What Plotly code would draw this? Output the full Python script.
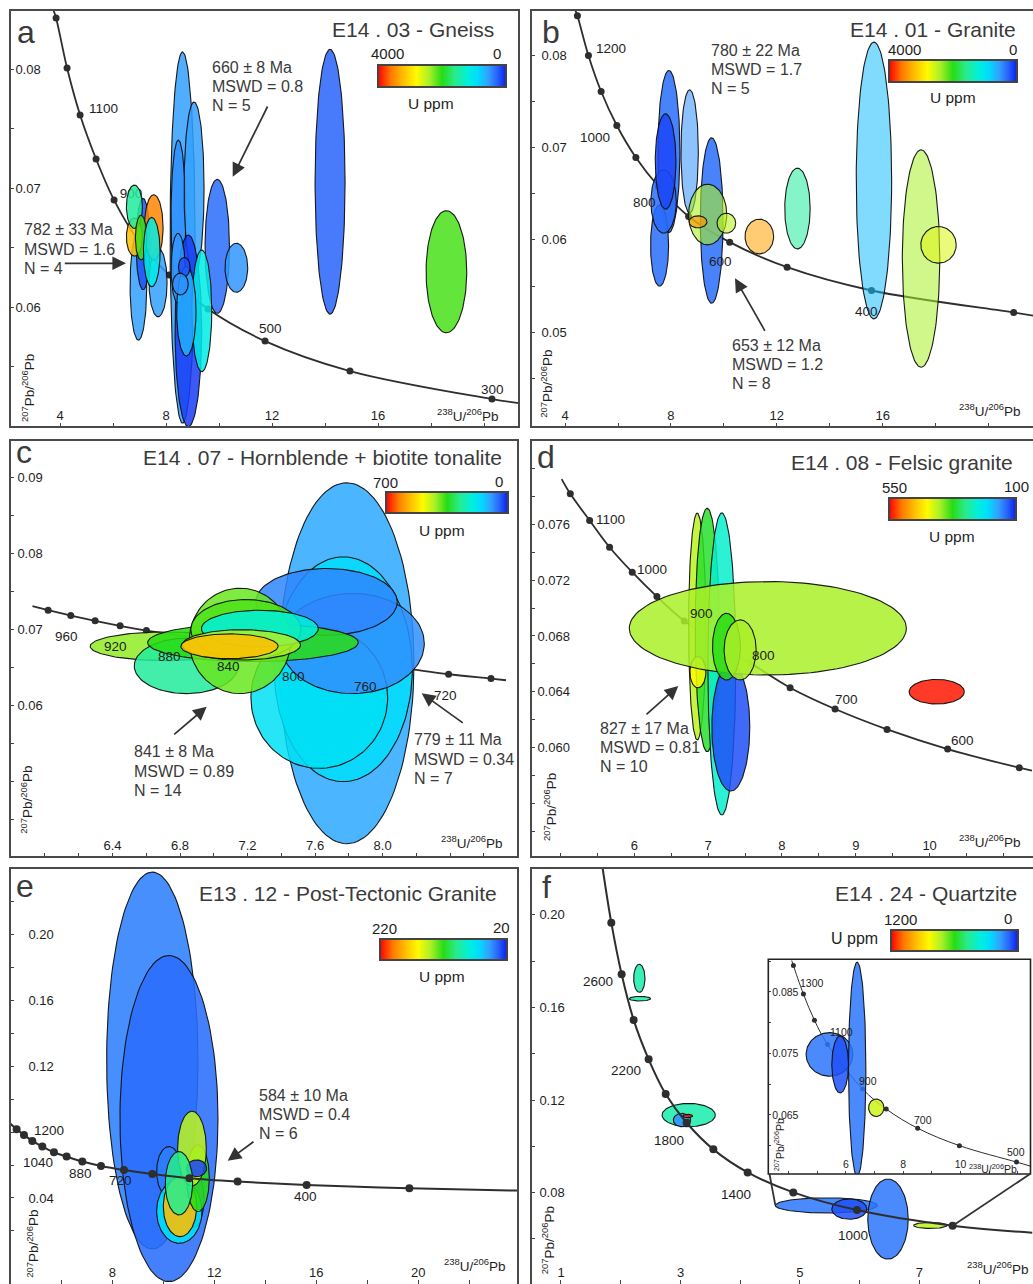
import numpy as np
import plotly.graph_objects as go
from plotly.colors import sample_colorscale

W, H = 1033, 1284
FONT = "Liberation Sans, Arial, Helvetica, sans-serif"
INK = "#1e1e1e"
GREY = "#3a3a3a"

# ============================ DATA ============================
# colour scale for U ppm (left/red = high U, right/blue = low U)
U_SCALE = [[0.00, 'rgb(255,0,0)'], [0.10, 'rgb(255,120,0)'], [0.20, 'rgb(255,190,0)'],
           [0.30, 'rgb(255,250,0)'], [0.40, 'rgb(170,240,40)'], [0.50, 'rgb(40,220,20)'],
           [0.60, 'rgb(40,235,140)'], [0.70, 'rgb(0,240,220)'], [0.78, 'rgb(0,220,255)'],
           [0.86, 'rgb(50,160,255)'], [0.93, 'rgb(40,100,250)'], [1.00, 'rgb(10,30,240)']]

# ---- (a) E14.03 Gneiss ----
A_URANGE = [4000, 0]
A_X = [14.19, 18.58, 9.932, 10.653, 8.623, 8.464, 9.057, 8.842, 9.347, 8.453, 8.766, 8.687, 8.54,
       6.956, 7.698, 7.132, 7.535, 6.805, 6.805, 7.057, 7.459]
A_Y = [0.07053, 0.06297, 0.0651, 0.0633, 0.06584, 0.06759, 0.06996, 0.058, 0.05968, 0.06325, 0.05964,
       0.06336, 0.06193, 0.06179, 0.06207, 0.06529, 0.06669, 0.06588, 0.06843, 0.06583, 0.06462]
A_EX = [0.566, 0.767, 0.46, 0.428, 0.472, 0.277, 0.377, 0.503, 0.377, 0.264, 0.365, 0.22, 0.296,
        0.314, 0.34, 0.264, 0.352, 0.302, 0.302, 0.214, 0.314]
A_EY = [0.01112, 0.00513, 0.00563, 0.00206, 0.0156, 0.00644, 0.00727, 0.00805, 0.00511, 0.00294, 0.00375,
        0.00081, 0.00091, 0.00457, 0.00289, 0.00384, 0.00275, 0.0016, 0.00182, 0.00188, 0.00291]
A_U = [280, 2100, 320, 520, 560, 480, 560, 120, 1120, 520, 640, 200, 480, 560, 560, 200, 3520, 3200,
       1520, 2080, 1120]
A_DOT_X = [3.849, 4.264, 4.755, 5.358, 6.038, 6.94, 8.113, 9.585, 11.736, 14.94, 20.30]
A_DOT_Y = [0.08429, 0.08008, 0.07613, 0.07244, 0.06899, 0.06563, 0.06269, 0.05983, 0.05714, 0.05462, 0.05227]
A_LINE_X = [3.747] + A_DOT_X + [21.32]
A_LINE_Y = [0.08496] + A_DOT_Y + [0.05193]

# ---- (b) E14.01 Granite ----
B_URANGE = [4000, 0]
B_X = [7.924, 7.571, 7.722, 7.798, 8.707, 9.539, 9.388, 9.022, 10.095, 11.34, 12.78, 15.67, 17.45, 18.11]
B_Y = [0.06956, 0.05939, 0.06415, 0.06848, 0.06956, 0.06209, 0.06274, 0.06195, 0.0618, 0.06036, 0.06339,
       0.06642, 0.05798, 0.05946]
B_EX = [0.416, 0.34, 0.48, 0.391, 0.328, 0.429, 0.72, 0.34, 0.353, 0.54, 0.48, 0.669, 0.707, 0.669]
B_EY = [0.00877, 0.0044, 0.00343, 0.00516, 0.00667, 0.00895, 0.00328, 0.00065, 0.00108, 0.00188, 0.00437,
        0.01497, 0.01176, 0.00198]
B_U = [320, 320, 320, 160, 480, 320, 2400, 3440, 2480, 3360, 1520, 720, 2400, 2640]
B_DOT_X = [4.467, 4.883, 5.363, 5.956, 6.675, 7.533, 8.669, 10.22, 12.39, 15.58, 20.95]
B_DOT_Y = [0.08424, 0.07995, 0.07605, 0.07237, 0.06891, 0.06577, 0.06253, 0.05975, 0.05704, 0.05452, 0.05214]
B_LINE_X = [4.379] + B_DOT_X + [21.72]
B_LINE_Y = [0.0849] + B_DOT_Y + [0.05178]

# ---- (c) E14.07 Hornblende + biotite tonalite ----
C_URANGE = [700, 0]
C_X = [7.787, 7.767, 7.625, 7.822, 7.668, 6.714, 6.837, 7.232, 7.155, 7.19, 7.273, 7.164, 7.093]
C_Y = [0.06554, 0.06475, 0.06101, 0.06814, 0.07363, 0.06778, 0.06519, 0.06827, 0.06849, 0.06998, 0.07011,
       0.06796, 0.06778]
C_EX = [0.399, 0.409, 0.405, 0.425, 0.419, 0.446, 0.308, 0.624, 0.3, 0.326, 0.346, 0.35, 0.288]
C_EY = [0.02379, 0.01482, 0.00932, 0.0066, 0.0044, 0.00189, 0.00365, 0.00251, 0.00695, 0.00396, 0.00242,
        0.002, 0.00163]
C_U = [105, 161, 168, 84, 77, 406, 266, 350, 385, 371, 210, 420, 560]
C_DOT_X = [6.019, 6.153, 6.297, 6.445, 6.601, 8.391, 8.642]
C_DOT_Y = [0.07253, 0.07183, 0.07113, 0.07047, 0.06985, 0.06409, 0.06352]
C_LINE_X = [5.926, 6.019, 6.153, 6.297, 6.445, 6.601, 8.188, 8.391, 8.642, 8.731]
C_LINE_Y = [0.07306, 0.07253, 0.07183, 0.07113, 0.07047, 0.06985, 0.0647, 0.06409, 0.06352, 0.0633]

# ---- (d) E14.08 Felsic granite ----
D_URANGE = [550, 100]
D_X = [6.853, 6.988, 6.862, 7.186, 7.308, 7.809, 7.249, 7.434, 10.096]
D_Y = [0.06867, 0.06843, 0.0654, 0.06599, 0.06147, 0.06855, 0.06723, 0.067, 0.0640]
D_EX = [0.117, 0.162, 0.108, 0.189, 0.257, 1.876, 0.189, 0.217, 0.374]
D_EY = [0.00813, 0.00873, 0.00112, 0.01083, 0.00459, 0.00335, 0.00239, 0.00215, 0.000885]
D_U = [379, 316, 415, 244, 122, 370, 325, 370, 541]
D_DOT_X = [5.134, 5.396, 5.666, 5.973, 6.307, 6.677, 7.105, 7.579, 8.111, 8.72, 9.424, 10.244, 11.214]
D_DOT_Y = [0.07819, 0.07628, 0.07436, 0.07257, 0.07082, 0.06908, 0.06759, 0.06604, 0.06429, 0.06276,
           0.0613, 0.05989, 0.05855]
D_LINE_X = [5.017] + D_DOT_X + [11.386]
D_LINE_Y = [0.07924] + D_DOT_Y + [0.05834]

# ---- (e) E13.12 Post-Tectonic Granite ----
E_URANGE = [220, 20]
E_X = [9.569, 10.222, 10.222, 11.216, 10.627, 10.654, 11.36, 11.124, 11.307, 10.614]
E_Y = [0.12356, 0.08828, 0.05604, 0.03921, 0.03191, 0.03475, 0.05199, 0.07003, 0.05807, 0.04894]
E_EX = [1.791, 1.922, 0.484, 0.379, 0.889, 0.654, 0.444, 0.562, 0.392, 0.536]
E_EY = [0.11456, 0.09915, 0.0152, 0.01683, 0.01946, 0.01825, 0.02028, 0.02271, 0.00507, 0.01926]
E_U = [40, 36, 40, 36, 68, 180, 120, 144, 28, 100]
E_DOT_X = [4.248, 4.536, 4.863, 5.255, 5.712, 6.209, 6.824, 7.556, 8.458, 9.569, 11.02, 12.915, 15.62, 19.65]
E_DOT_Y = [0.08179, 0.07835, 0.0747, 0.07125, 0.0678, 0.06517, 0.06213, 0.05949, 0.05706, 0.05462,
           0.05199, 0.04996, 0.04793, 0.0459]
E_LINE_X = [3.987] + E_DOT_X + [23.92]
E_LINE_Y = [0.08544] + E_DOT_Y + [0.04448]

# ---- (f) E14.24 Quartzite ----
F_URANGE = [1200, 0]
F_X = [2.311, 2.322, 3.137, 3.025, 3.12, 5.441, 5.826, 6.473, 7.181]
F_Y = [0.17256, 0.16377, 0.11352, 0.11136, 0.11309, 0.0745, 0.07292, 0.0686, 0.06586]
F_EX = [0.095, 0.179, 0.446, 0.145, 0.084, 0.854, 0.293, 0.338, 0.279]
F_EY = [0.00605, 0.001, 0.00504, 0.00288, 0.00072, 0.0033, 0.0044, 0.0173, 0.0013]
F_U = [432, 432, 432, 144, 1176, 108, 60, 108, 744]
F_DOT_X = [1.842, 2.015, 2.216, 2.467, 2.752, 3.103, 3.55, 4.124, 4.888, 5.954, 7.555]
F_DOT_Y = [0.1966, 0.1743, 0.1546, 0.1376, 0.1226, 0.1102, 0.0987, 0.08875, 0.08011, 0.07248, 0.06572]
F_LINE_X = [1.697] + F_DOT_X + [8.888]
F_LINE_Y = [0.2201] + F_DOT_Y + [0.0627]

# ---- (f) inset ----
I_X = [5.429, 5.802, 6.396, 7.061]
I_Y = [0.07484, 0.0732, 0.07244, 0.06617]
I_EX = [0.816, 0.291, 0.303, 0.268]
I_EY = [0.00354, 0.00463, 0.01739, 0.00142]
I_U = [108, 60, 108, 768]
I_DOT_X = [4.170, 4.520, 4.904, 5.359, 6.583, 7.41, 8.506, 9.963, 11.956]
I_DOT_Y = [0.08928, 0.08465, 0.0804, 0.07647, 0.06922, 0.06595, 0.06284, 0.06001, 0.05734]
I_LINE_X = [4.112] + I_DOT_X + [12.445]
I_LINE_Y = [0.0901] + I_DOT_Y + [0.05668]

# tick values
A_XT, A_XM, A_YT, A_YM = [4, 8, 12, 16], [6, 10, 14, 18, 20], [0.06, 0.07, 0.08], [0.055, 0.065, 0.075]
B_XT, B_XM, B_YT, B_YM = [4, 8, 12, 16], [6, 10, 14, 18, 20], [0.05, 0.06, 0.07, 0.08], [0.045, 0.055, 0.065, 0.075]
C_XT, C_XM = [6.4, 6.8, 7.2, 7.6, 8.0], [6.0, 6.2, 6.6, 7.0, 7.4, 7.8, 8.2, 8.4, 8.6]
C_YT, C_YM = [0.06, 0.07, 0.08, 0.09], [0.045, 0.05, 0.055, 0.065, 0.075, 0.085]
D_XT, D_XM = [6, 7, 8, 9, 10], [5.0, 5.5, 6.5, 7.5, 8.5, 9.5, 10.5, 11.0]
D_YT, D_YM = [0.060, 0.064, 0.068, 0.072, 0.076], [0.054, 0.056, 0.058, 0.062, 0.066, 0.070, 0.074, 0.078, 0.080]
E_XT, E_XM, E_YT, E_YM = [8, 12, 16, 20], [6, 10, 14, 18, 22], [0.04, 0.12, 0.16, 0.20], [0.02, 0.06, 0.08, 0.10, 0.14, 0.18, 0.22]
F_XT, F_XM, F_YT, F_YM = [1, 3, 5, 7], [2, 4, 6, 8], [0.08, 0.12, 0.16, 0.20], [0.06, 0.10, 0.14, 0.18]
I_XT, I_XM, I_YT, I_YM = [6, 8, 10], [4, 5, 7, 9, 11, 12], [0.065, 0.075, 0.085], [0.06, 0.07, 0.08, 0.09]

# ============================ STYLE / LAYOUT ============================
B_ALPHA = [0.85, 0.85, 0.85, 0.85, 0.55, 0.85, 0.6, 0.65, 0.6, 0.55, 0.55, 0.55, 0.55, 0.55]

T = np.linspace(0, 2 * np.pi, 121)
fig = go.Figure()
layout = dict(width=W, height=H, margin=dict(l=0, r=0, t=0, b=0), paper_bgcolor='white',
              plot_bgcolor='white', showlegend=False, font=dict(family=FONT, color=INK))
ANN, SHP = [], []


def P(px, py):
    return px / W, 1 - py / H


def ucolor(u, urange, alpha):
    hi, lo = urange
    t = min(max((hi - u) / (hi - lo), 0), 1)
    c = sample_colorscale(U_SCALE, [t])[0]
    r, g, b = [float(v) for v in c[c.index('(') + 1:-1].split(',')]
    return f'rgba({r:.0f},{g:.0f},{b:.0f},{alpha})'


def refs(n):
    return ('x', 'y') if n == 1 else (f'x{n}', f'y{n}')


def axes(n, box, xr, yr, xt, xm, yt, ym, xfmt, yfmt, fs=13, tl=4, ystand=0):
    x0, y0, x1, y1 = box
    sfx = '' if n == 1 else str(n)
    com = dict(showgrid=False, zeroline=False, showline=False, ticks='inside', ticklen=tl, tickwidth=1,
               tickcolor='#444', ticklabelposition='inside', ticklabeloverflow='allow', fixedrange=True,
               tickfont=dict(size=fs, color=INK, family=FONT), tickmode='array')
    xa = dict(domain=[x0 / W, min(x1 / W, 1)], range=xr, anchor='y' + sfx, tickvals=xt,
              ticktext=[xfmt.format(v) for v in xt],
              minor=dict(tickvals=xm, ticks='inside', ticklen=tl, tickwidth=1, tickcolor='#444'), **com)
    ya = dict(domain=[max(1 - y1 / H, 0), 1 - y0 / H], range=yr, anchor='x' + sfx, tickvals=yt,
              ticktext=[yfmt.format(v) for v in yt], ticklabelstandoff=ystand,
              minor=dict(tickvals=ym, ticks='inside', ticklen=tl, tickwidth=1, tickcolor='#444'), **com)
    layout['xaxis' + sfx] = xa
    layout['yaxis' + sfx] = ya


def curve(n, lx, ly, dx, dy, lw=1.8, ds=7):
    xa, ya = refs(n)
    fig.add_trace(go.Scatter(x=lx, y=ly, mode='lines', line=dict(color='#2e2e2e', width=lw, shape='spline'),
                             xaxis=xa, yaxis=ya, hoverinfo='skip'))
    fig.add_trace(go.Scatter(x=dx, y=dy, mode='markers', marker=dict(color='#2e2e2e', size=ds),
                             xaxis=xa, yaxis=ya, hoverinfo='skip'))


def ellipses(n, X, Y, EX, EY, U, urange, alpha, olw=1.1):
    xa, ya = refs(n)
    for i in range(len(X)):
        al = alpha[i] if isinstance(alpha, list) else alpha
        ex = X[i] + EX[i] * np.cos(T)
        ey = Y[i] + EY[i] * np.sin(T)
        fig.add_trace(go.Scatter(x=ex, y=ey, mode='lines', fill='toself',
                                 fillcolor=ucolor(U[i], urange, al),
                                 line=dict(color='rgba(15,15,15,0.95)', width=olw),
                                 xaxis=xa, yaxis=ya, hoverinfo='skip'))


def cbar(n, box):
    x0, y0, x1, y1 = box
    key = 'coloraxis' if n == 1 else f'coloraxis{n}'
    layout[key] = dict(colorscale=U_SCALE, cmin=0, cmax=1, showscale=True,
                       colorbar=dict(orientation='h', x=x0 / W, xanchor='left', y=1 - y0 / H, yanchor='top',
                                     len=x1 - x0, lenmode='pixels', thickness=y1 - y0, thicknessmode='pixels',
                                     outlinewidth=2, outlinecolor='#444', showticklabels=False, ticks='',
                                     xpad=0, ypad=0, borderwidth=0))
    xa, ya = refs(n)
    fig.add_trace(go.Scatter(x=[None], y=[None], mode='markers', marker=dict(color=[0.5], coloraxis=key),
                             xaxis=xa, yaxis=ya, hoverinfo='skip'))


def text(px, py, s, size, color=INK, xanchor='center', yanchor='middle', angle=0):
    x, y = P(px, py)
    ANN.append(dict(x=x, y=y, xref='paper', yref='paper', text=s, showarrow=False, textangle=angle,
                    font=dict(family=FONT, size=size, color=color), xanchor=xanchor, yanchor=yanchor,
                    borderpad=0))


def block(px, py, lines, size=16, step=19):
    for i, s in enumerate(lines):
        text(px, py + i * step, s, size, color=GREY, xanchor='left')


def arrow(tx, ty, hx, hy):
    x, y = P(hx, hy)
    ANN.append(dict(x=x, y=y, xref='paper', yref='paper', ax=tx - hx, ay=ty - hy, axref='pixel',
                    ayref='pixel', text='', showarrow=True, arrowhead=2, arrowsize=1.6, arrowwidth=1.7,
                    arrowcolor='#333'))


def frame(x0, y0, x1, y1, w=2, col='#4a4a4a'):
    SHP.append(dict(type='rect', xref='paper', yref='paper', x0=x0 / W, x1=x1 / W, y0=1 - y1 / H,
                    y1=1 - y0 / H, line=dict(color=col, width=w), fillcolor='rgba(0,0,0,0)', layer='above'))


PB207 = '<sup>207</sup>Pb/<sup>206</sup>Pb'
U238 = '<sup>238</sup>U/<sup>206</sup>Pb'

# ---------------- panel a ----------------
BOX_A = (10, 10, 519, 427)
axes(1, BOX_A, [2.11, 21.32], [0.04992, 0.08496], A_XT, A_XM, A_YT, A_YM, '{:g}', '{:.2f}', ystand=1)
curve(1, A_LINE_X, A_LINE_Y, A_DOT_X, A_DOT_Y)
# age label that sits underneath the ellipses (partly hidden in the original)
fig.add_trace(go.Scatter(x=[6.679], y=[0.06941], mode='text', text=['900'],
                         textfont=dict(family=FONT, size=13.5, color=INK), xaxis='x', yaxis='y',
                         hoverinfo='skip'))
ellipses(1, A_X, A_Y, A_EX, A_EY, A_U, A_URANGE, 0.85)
cbar(1, (378, 65, 506, 86.5))
frame(*BOX_A)
text(16, 32, 'a', 32, GREY, xanchor='left')
text(495, 29.5, 'E14 . 03 - Gneiss', 21, GREY, xanchor='right')
text(387.5, 54, '4000', 15); text(496.5, 53.5, '0', 15); text(431, 103, 'U ppm', 15.5)
block(210.7, 67.5, ['660 ± 8 Ma', 'MSWD = 0.8', 'N = 5'])
block(22.7, 230, ['782 ± 33 Ma', 'MSWD = 1.6', 'N = 4'])
arrow(268.3, 105, 232.7, 176.7)
arrow(63.3, 263.3, 126, 263.3)
for s, x, y in [('1100', 103, 108), ('500', 270, 328), ('300', 492, 389)]:
    text(x, y, s, 13.5)
text(28, 388, PB207, 13.5, angle=-90)
text(468, 414.5, U238, 13.5)

# ---------------- panel b ----------------
BOX_B = (531, 10, 1034, 427)
axes(2, BOX_B, [2.713, 21.68], [0.03975, 0.08487], B_XT, B_XM, B_YT, B_YM, '{:g}', '{:.2f}', ystand=6)
curve(2, B_LINE_X, B_LINE_Y, B_DOT_X, B_DOT_Y)
ellipses(2, B_X, B_Y, B_EX, B_EY, B_U, B_URANGE, B_ALPHA)
cbar(2, (889, 60, 1016.5, 81.5))
frame(*BOX_B)
text(540.5, 32, 'b', 32, GREY, xanchor='left')
text(1017, 29.5, 'E14 . 01 - Granite', 21, GREY, xanchor='right')
text(904.7, 50, '4000', 15); text(1012.7, 49.5, '0', 15); text(952.7, 98, 'U ppm', 15.5)
block(710, 50.5, ['780 ± 22 Ma', 'MSWD = 1.7', 'N = 5'])
block(731, 345.5, ['653 ± 12 Ma', 'MSWD = 1.2', 'N = 8'])
arrow(765.7, 332.3, 735, 278.3)
for s, x, y in [('1200', 610.7, 48.3), ('1000', 595, 138), ('800', 644, 203), ('600', 720, 262), ('400', 866.7, 311.7)]:
    text(x, y, s, 13.5)
text(546.7, 384, PB207, 13.5, angle=-90)
text(990, 410.5, U238, 13.5)

# ---------------- panel c ----------------
BOX_C = (10, 440, 518, 857)
axes(3, BOX_C, [5.793, 8.802], [0.04, 0.09497], C_XT, C_XM, C_YT, C_YM, '{:.1f}', '{:.2f}', ystand=3)
curve(3, C_LINE_X, C_LINE_Y, C_DOT_X, C_DOT_Y)
ellipses(3, C_X, C_Y, C_EX, C_EY, C_U, C_URANGE, 0.85)
cbar(3, (385.7, 492.3, 507.3, 513.3))
frame(*BOX_C)
text(15, 452, 'c', 32, GREY, xanchor='left')
text(503.3, 457, 'E14 . 07 - Hornblende + biotite tonalite', 21, GREY, xanchor='right')
text(385, 482.3, '700', 15); text(499, 481.7, '0', 15); text(441.7, 530, 'U ppm', 15.5)
block(133.3, 752, ['841 ± 8 Ma', 'MSWD = 0.89', 'N = 14'])
block(412.7, 740, ['779 ± 11 Ma', 'MSWD = 0.34', 'N = 7'])
arrow(172.7, 735.7, 206.7, 706.7)
arrow(464.3, 724, 421.7, 693.3)
for s, x, y in [('960', 66, 636.7), ('920', 115, 646.7), ('880', 169.3, 656.7), ('840', 228.3, 666.7),
                ('800', 293.3, 676.7), ('760', 365, 686), ('720', 445, 695)]:
    text(x, y, s, 13.5)
text(26.7, 800, PB207, 13.5, angle=-90)
text(471.7, 841.5, U238, 13.5)

# ---------------- panel d ----------------
BOX_D = (531, 440, 1034, 857)
axes(4, BOX_D, [4.602, 11.40], [0.05215, 0.08205], D_XT, D_XM, D_YT, D_YM, '{:g}', '{:.3f}', ystand=2)
curve(4, D_LINE_X, D_LINE_Y, D_DOT_X, D_DOT_Y)
ellipses(4, D_X, D_Y, D_EX, D_EY, D_U, D_URANGE, 0.85)
cbar(4, (889.3, 497.7, 1016.7, 519.3))
frame(*BOX_D)
text(536, 457, 'd', 32, GREY, xanchor='left')
text(1014, 462, 'E14 . 08 - Felsic granite', 21, GREY, xanchor='right')
text(894, 487.3, '550', 15); text(1016, 486.7, '100', 15); text(951.7, 536, 'U ppm', 15.5)
block(599, 728.5, ['827 ± 17 Ma', 'MSWD = 0.81', 'N = 10'])
arrow(645, 715.7, 678.3, 686)
for s, x, y in [('1100', 610.7, 519.3), ('1000', 651.7, 569.3), ('900', 701.7, 613.3), ('800', 763.3, 656),
                ('700', 846.7, 699.3), ('600', 962.7, 740.7)]:
    text(x, y, s, 13.5)
text(550, 807, PB207, 13.5, angle=-90)
text(989.7, 841, U238, 13.5)

# ---------------- panel e ----------------
BOX_E = (10, 868, 518, 1284)
axes(5, BOX_E, [3.988, 23.91], [-0.0123, 0.2406], E_XT, E_XM, E_YT, E_YM, '{:g}', '{:.2f}', ystand=14)
ellipses(5, E_X, E_Y, E_EX, E_EY, E_U, E_URANGE, 0.87)
curve(5, E_LINE_X, E_LINE_Y, E_DOT_X, E_DOT_Y, lw=2, ds=8)
cbar(5, (380, 939, 506.7, 960))
frame(10, 868, 518, 1300)
text(15, 885.5, 'e', 32, GREY, xanchor='left')
text(498.3, 893.3, 'E13 . 12 - Post-Tectonic Granite', 21, GREY, xanchor='right')
text(384, 928.3, '220', 15); text(501.7, 927.7, '20', 15); text(441.7, 977, 'U ppm', 15.5)
block(257.7, 1095.5, ['584 ± 10 Ma', 'MSWD = 0.4', 'N = 6'])
arrow(255, 1140.7, 227.7, 1160.7)
for s, x, y in [('1200', 49.3, 1130), ('1040', 37.7, 1162.7), ('880', 80, 1173.3), ('720', 120.7, 1180.7),
                ('400', 305, 1196.7)]:
    text(x, y, s, 13.5)
text(32.7, 1244, PB207, 13.5, angle=-90)
text(475, 1265, U238, 13.5)

# ---------------- panel f ----------------
BOX_F = (531, 868, 1034, 1284)
F_XR, F_YR = [0.498, 8.9], [0.04056, 0.2202]
axes(6, BOX_F, F_XR, F_YR, F_XT, F_XM, F_YT, F_YM, '{:g}', '{:.2f}', ystand=4)
ellipses(6, F_X, F_Y, F_EX, F_EY, F_U, F_URANGE, 0.85)
curve(6, F_LINE_X, F_LINE_Y, F_DOT_X, F_DOT_Y, lw=2, ds=8)
cbar(6, (890.7, 930, 1017.7, 950.7))
frame(531, 868, 1034, 1300)
text(541, 887, 'f', 32, GREY, xanchor='left')
text(1018.3, 893.3, 'E14 . 24 - Quartzite', 21, GREY, xanchor='right')
text(900, 919.3, '1200', 15); text(1008.3, 918.3, '0', 15); text(854.3, 938, 'U ppm', 16)
for s, x, y in [('2600', 598.3, 981.7), ('2200', 626, 1070), ('1800', 669, 1140.7), ('1400', 736, 1194.3),
                ('1000', 852.7, 1235)]:
    text(x, y, s, 13.5)
text(548.3, 1240, PB207, 13.5, angle=-90)
text(997.5, 1268, U238, 13.5)

# ---------------- inset of f ----------------
BOX_I = (768.3, 959.3, 1030.5, 1174)
axes(7, BOX_I, [3.294, 12.444], [0.0554, 0.0903], I_XT, I_XM, I_YT, I_YM, '{:g}', '{:.3f}', fs=10.5, tl=3)
curve(7, I_LINE_X, I_LINE_Y, I_DOT_X, I_DOT_Y, lw=1, ds=5)
ellipses(7, I_X, I_Y, I_EX, I_EY, I_U, F_URANGE, 0.85)
frame(*BOX_I, w=1.6, col='#222')
for s, x, y in [('1300', 811.7, 983.3), ('1100', 841.7, 1031.7), ('900', 868.3, 1080.7), ('700', 923.3, 1120),
                ('500', 1016, 1151.7)]:
    text(x, y, s, 10.5)
text(778.3, 1145, PB207, 10.5, angle=-90)
text(993.3, 1168, U238, 10.5)


def f_paper(xv, yv):
    x0, y0, x1, y1 = BOX_F
    px = x0 + (xv - F_XR[0]) / (F_XR[1] - F_XR[0]) * (min(x1, W) - x0)
    py = y1 - (yv - F_YR[0]) / (F_YR[1] - F_YR[0]) * (y1 - y0)
    return px, py


for (cx, cy), (ix, iy) in [((4.587, 0.07464), (769.5, 1174)), ((F_DOT_X[-1], F_DOT_Y[-1]), (1030, 1174))]:
    px, py = f_paper(cx, cy)
    SHP.append(dict(type='line', xref='paper', yref='paper', x0=ix / W, y0=1 - iy / H, x1=px / W,
                    y1=1 - py / H, line=dict(color='#333', width=1.8), layer='above'))

layout['annotations'] = ANN
layout['shapes'] = SHP
fig.update_layout(**layout)
fig.write_html("out.html", config={'displayModeBar': False},
               post_script="document.body.style.margin='0';document.body.style.overflow='hidden';")
